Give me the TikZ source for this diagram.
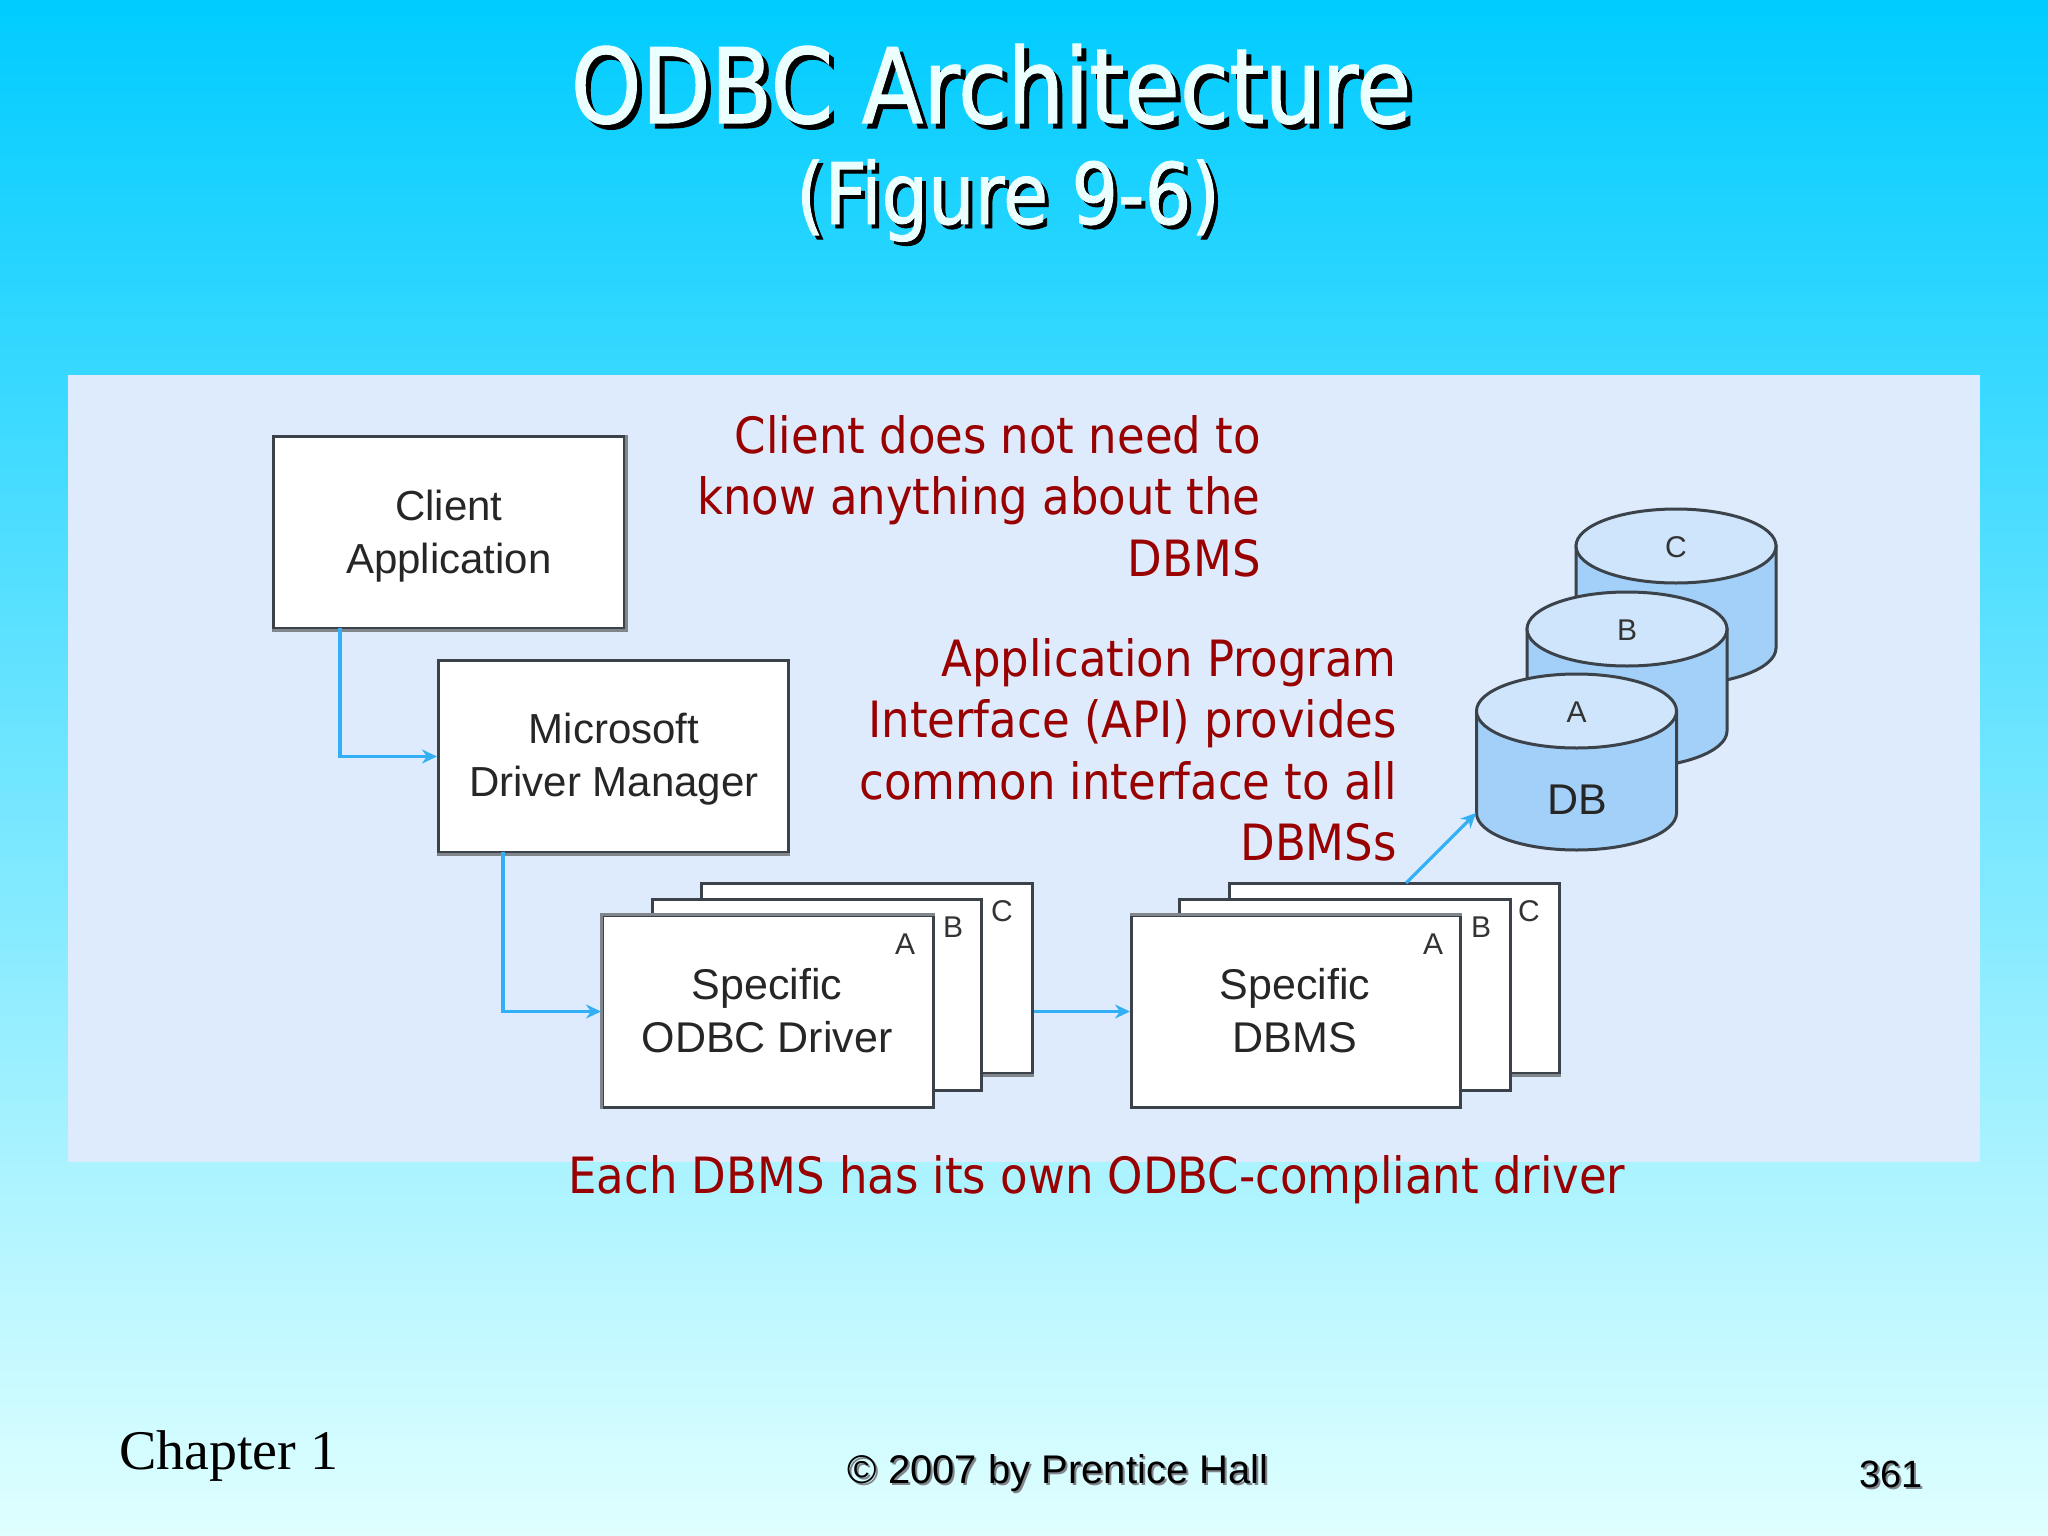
\documentclass[tikz,border=0pt]{standalone}
\usepackage{fontspec}
\usetikzlibrary{arrows.meta}
\setmainfont{Liberation Sans}
\newfontfamily\tahomaish{DejaVu Sans Condensed}
\newfontfamily\titleface[FakeStretch=0.96,FakeBold=1]{DejaVu Sans Condensed}
\newfontfamily\timesish{Liberation Serif}
\definecolor{bgtop}{RGB}{0,204,255}
\definecolor{bgbottom}{RGB}{224,255,255}
\definecolor{panelblue}{RGB}{221,235,252}
\definecolor{noteRed}{RGB}{153,0,0}
\definecolor{edgeDark}{RGB}{60,66,74}
\definecolor{edgeSoft}{RGB}{128,134,140}
\definecolor{linkBlue}{RGB}{50,175,245}
\definecolor{dbBody}{RGB}{163,208,248}
\definecolor{dbTop}{RGB}{207,229,251}
\definecolor{titleWhite}{RGB}{236,255,255}
\tikzset{
  box/.style={draw=edgeDark,line width=3pt,fill=white,anchor=north west,inner sep=0pt},
  softedge/.style={draw=edgeSoft,line width=3pt},
  boxtext/.style={font=\fontsize{#1}{53}\selectfont,align=center,text=black!85,inner sep=0pt},
  boxtext/.default=43,
  tag/.style={font=\fontsize{30}{30}\selectfont,text=black!80,inner sep=0pt},
  link/.style={draw=linkBlue,line width=3.2pt,-{Stealth[length=15pt,width=14pt]}},
  note/.style={font=\tahomaish\fontsize{50}{61.5}\selectfont,text=noteRed,align=right,inner sep=0pt},
  titlefont/.style={font=\titleface\fontsize{#1}{#1}\selectfont,inner sep=0pt,anchor=base},
  foot/.style={font=\fontsize{#1}{#1}\selectfont,anchor=base,inner sep=0pt},
  dbedge/.style={draw=edgeDark,line width=3pt},
}
\newcommand\dbcyl[4]{%
  \draw[dbedge,fill=dbBody] ({#2-100},#3) -- ({#2-100},{#3+102})
    .. controls ({#2-100},{#3+122.5}) and ({#2-55},{#3+139}) .. ({#2},{#3+139})
    .. controls ({#2+55},{#3+139}) and ({#2+100},{#3+122.5}) .. ({#2+100},{#3+102})
    -- ({#2+100},#3) -- cycle;
  \draw[dbedge,fill=dbTop] (#2,#3) ellipse [x radius=100pt,y radius=37pt];
  \node[tag] (#1) at (#2,{#3+1}) {#4};
}
\begin{document}
\begin{tikzpicture}[x=1pt,y=-1pt]
\useasboundingbox (0,0) rectangle (2048,1536);
\shade[top color=bgtop,bottom color=bgbottom] (0,0) rectangle (2048,1536);
\fill[panelblue] (68,375) rectangle (1980,1162);

% title
\node[titlefont=104,text=black] (titleS) at (996,128) {ODBC Architecture};
\node[titlefont=104,text=titleWhite] (title) at (991,123) {ODBC Architecture};
\node[titlefont=85,text=black] (subS) at (1012,228) {(Figure 9-6)};
\node[titlefont=85,text=titleWhite] (sub) at (1008,224) {(Figure 9-6)};

% boxes
\node[box,minimum width=351pt,minimum height=192pt] (client) at (272,435) {};
\node[boxtext=42] (clientT) at (449,536) {Client\\Application};
\node[box,minimum width=350pt,minimum height=192pt] (mgr) at (437,659) {};
\node[boxtext=42] (mgrT) at (614,759) {Microsoft\\Driver Manager};
\draw[softedge] (client.north east) -- (client.south east) -- (client.south west);
\draw[softedge] (mgr.south east) -- (mgr.south west);

% driver stack
\node[box,minimum width=331pt,minimum height=190pt] (drvC) at (700,882) {};
\node[box,minimum width=329pt,minimum height=191pt] (drvB) at (651,898) {};
\node[box,minimum width=331pt,minimum height=192pt] (drvA) at (601,914) {};
\draw[softedge] (drvC.south east) -- (drvB.south east |- drvC.south);
\draw[softedge] (drvA.south west) -- (drvA.north west) -- (drvA.north east);
\node[tag] (drvCt) at (1002,911) {C};
\node[tag] (drvBt) at (953,927) {B};
\node[tag] (drvAt) at (905,944) {A};
\node[boxtext] (drvT) at (767,1011) {Specific\\ODBC Driver};

% dbms stack
\node[box,minimum width=330pt,minimum height=190pt] (dbmsC) at (1228,882) {};
\node[box,minimum width=331pt,minimum height=191pt] (dbmsB) at (1178,898) {};
\node[box,minimum width=329pt,minimum height=192pt] (dbmsA) at (1130,914) {};
\draw[softedge] (dbmsC.south east) -- (dbmsB.south east |- dbmsC.south);
\draw[softedge] (dbmsA.north west) -- (dbmsA.north east);
\node[tag] (dbmsCt) at (1529,911) {C};
\node[tag] (dbmsBt) at (1481,927) {B};
\node[tag] (dbmsAt) at (1433,944) {A};
\node[boxtext] (dbmsT) at (1295,1011) {Specific\\DBMS};

% databases
\dbcyl{dbC}{1676}{546}{C}
\dbcyl{dbB}{1627}{629}{B}
\dbcyl{dbA}{1576.5}{711}{A}
\node[boxtext] (dbT) at (1577,800) {DB};

% connectors
\coordinate (clientOut) at (340,628);
\coordinate (mgrOut) at (503,852);
\coordinate (dbmsOut) at (1406,883);
\coordinate (dbIn) at (1476,813);
\draw[link] (clientOut) |- (mgr.west);
\draw[link] (mgrOut) |- (drvA.west);
\draw[link] (drvC.east |- drvA.west) -- (dbmsA.west);
\draw[link] (dbmsOut) -- (dbIn);

% notes
\node[note,anchor=east] (note1) at (1261,496) {Client does not need to\\know anything about the\\DBMS};
\node[note,anchor=east] (note2) at (1397,750) {Application Program\\Interface (API) provides\\common interface to all\\DBMSs};
\node[note,anchor=base] (note3) at (1097,1193) {Each DBMS has its own ODBC-compliant driver};

% footer
\node[font=\timesish\fontsize{56}{56}\selectfont,anchor=base west,inner sep=0pt] (chap) at (119,1469) {Chapter 1};
\node[foot=40,text=edgeSoft] (copyS) at (1060,1485) {© 2007 by Prentice Hall};
\node[foot=40] (copy) at (1058,1483) {© 2007 by Prentice Hall};
\node[foot=38,text=edgeSoft] (pageS) at (1893,1489) {361};
\node[foot=38] (page) at (1891,1487) {361};
\end{tikzpicture}
\end{document}
